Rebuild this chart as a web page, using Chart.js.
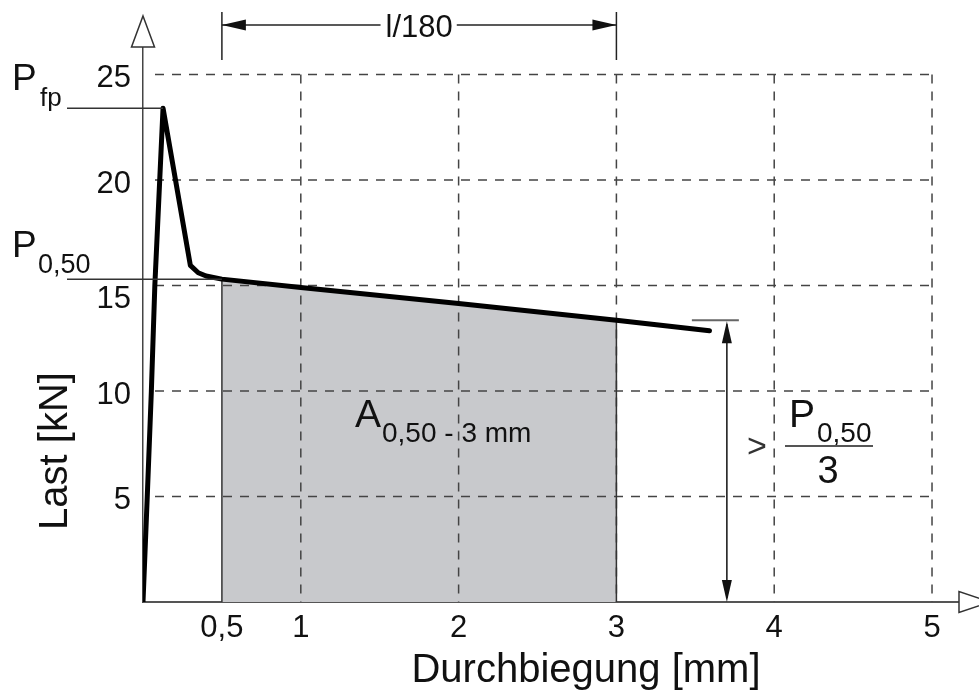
<!DOCTYPE html>
<html>
<head>
<meta charset="utf-8">
<script src="https://cdn.jsdelivr.net/npm/chart.js@4"></script>
<style>
  html, body { margin: 0; padding: 0; background: #fff; }
  canvas { display: block; }
</style>
</head>
<body>
<canvas id="lastChart" width="979" height="690"></canvas>
<script>
// Load-deflection curve (Durchbiegung in mm, Last in kN)
const deflection = [0, 0.027, 0.053, 0.075, 0.127, 0.30, 0.35, 0.40, 0.5, 1, 2, 3, 3.59];
const load       = [0, 5, 10, 15, 23.4, 15.95, 15.6, 15.45, 15.3, 14.9, 14.15, 13.35, 12.85];

// Axis ticks and dashed grid
const xTickValues = [0.5, 1, 2, 3, 4, 5];
const yTickValues = [5, 10, 15, 20, 25];
const gridX = [1, 2, 3, 4, 5];
const gridY = [5, 10, 15, 20, 25];

// Shaded energy area and the residual-load dimension
const areaFrom = 0.5;
const areaTo = 3;
const dimX = 3.70;

const FONT = '"Liberation Sans", Arial, Helvetica, sans-serif';
const INK = '#111';

// --- helpers ---
function loadAt(x) {
    const i = deflection.indexOf(x);
    return load[i];
}

const curvePoints = deflection.map((x, i) => ({ x: x, y: load[i] }));
const areaPoints = curvePoints.filter(p => p.x >= areaFrom && p.x <= areaTo);

function line(ctx, x1, y1, x2, y2) {
    ctx.beginPath();
    ctx.moveTo(x1, y1);
    ctx.lineTo(x2, y2);
    ctx.stroke();
}

// filled arrow head, tip at (x, y), pointing along (dx, dy)
function arrowHead(ctx, x, y, dx, dy, len, half) {
    const bx = x - dx * len, by = y - dy * len;
    ctx.beginPath();
    ctx.moveTo(x, y);
    ctx.lineTo(bx - dy * half, by + dx * half);
    ctx.lineTo(bx + dy * half, by - dx * half);
    ctx.closePath();
    ctx.fill();
}

// open triangle at the end of an axis
function openArrow(ctx, x, y, dx, dy, len, half) {
    const tx = x + dx * len, ty = y + dy * len;
    ctx.beginPath();
    ctx.moveTo(tx, ty);
    ctx.lineTo(x - dy * half, y + dx * half);
    ctx.lineTo(x + dy * half, y - dx * half);
    ctx.closePath();
    ctx.fillStyle = '#fff';
    ctx.fill();
    ctx.stroke();
}

function text(ctx, str, x, y, size, align, color) {
    ctx.font = size + 'px ' + FONT;
    ctx.textAlign = align || 'left';
    ctx.textBaseline = 'alphabetic';
    ctx.fillStyle = color || INK;
    ctx.fillText(str, x, y);
}

// --- grid drawn over the grey area but under the curve ---
const gridPlugin = {
    id: 'dashedGrid',
    afterDatasetDraw(chart, args) {
        if (args.index !== 1) return;
        const ctx = chart.ctx, xs = chart.scales.x, ys = chart.scales.y;
        ctx.save();
        ctx.strokeStyle = '#444';
        ctx.lineWidth = 1.5;
        ctx.setLineDash([9, 8]);
        gridX.forEach(v => {
            const px = xs.getPixelForValue(v);
            line(ctx, px, ys.getPixelForValue(25), px, ys.getPixelForValue(0));
        });
        gridY.forEach(v => {
            const py = ys.getPixelForValue(v);
            line(ctx, xs.getPixelForValue(0) + 12, py, xs.getPixelForValue(5), py);
        });
        ctx.setLineDash([]);

        // solid edges of the shaded area
        ctx.strokeStyle = '#333';
        [areaFrom, areaTo].forEach(v => {
            const px = xs.getPixelForValue(v);
            line(ctx, px, ys.getPixelForValue(loadAt(v)), px, ys.getPixelForValue(0));
        });
        ctx.restore();
    }
};

// --- annotations: reference loads, dimensions, labels, axis arrows ---
const annotationPlugin = {
    id: 'annotations',
    afterDraw(chart) {
        const ctx = chart.ctx, xs = chart.scales.x, ys = chart.scales.y;
        const area = chart.chartArea;
        const x0 = xs.getPixelForValue(0), y0 = ys.getPixelForValue(0);
        const pFp = Math.max(...load);
        const pPeakX = deflection[load.indexOf(pFp)];
        const p050 = loadAt(areaFrom);
        const pEnd = loadAt(areaTo);
        const yP050 = ys.getPixelForValue(p050);
        ctx.save();

        // y tick labels; the one hit by the P_0,50 line moves below it
        yTickValues.forEach(v => {
            let py = ys.getPixelForValue(v) + 2;
            if (Math.abs(py - yP050) < 14) py = yP050 + 18;
            text(ctx, String(v), x0 - 12, py + 11, 31, 'right');
        });

        // axis arrows
        ctx.strokeStyle = '#333';
        ctx.lineWidth = 1.5;
        openArrow(ctx, x0, area.top, 0, -1, 31, 11.5);
        openArrow(ctx, area.right, y0, 1, 0, 31, 10.5);

        // reference lines P_fp and P_0,50
        ctx.strokeStyle = '#333';
        ctx.lineWidth = 1.5;
        line(ctx, 67, ys.getPixelForValue(pFp), xs.getPixelForValue(pPeakX), ys.getPixelForValue(pFp));
        line(ctx, 67, yP050, xs.getPixelForValue(areaFrom), yP050);

        text(ctx, 'P', 12, 90, 37);
        text(ctx, 'fp', 40, 106, 26);
        text(ctx, 'P', 12, 257, 37);
        text(ctx, '0,50', 38, 273, 27);

        // l/180 dimension above the plot
        const xa = xs.getPixelForValue(areaFrom), xb = xs.getPixelForValue(areaTo);
        const yDim = 25;
        ctx.strokeStyle = '#222';
        ctx.fillStyle = '#111';
        ctx.lineWidth = 1.5;
        line(ctx, xa, 12, xa, 60);
        line(ctx, xb, 12, xb, 60);
        ctx.font = '31px ' + FONT;
        const label = 'l/180';
        const w = ctx.measureText(label).width;
        const mid = (xa + xb) / 2;
        line(ctx, xa, yDim, mid - w / 2 - 5, yDim);
        line(ctx, mid + w / 2 + 4, yDim, xb, yDim);
        arrowHead(ctx, xa, yDim, -1, 0, 24, 5.5);
        arrowHead(ctx, xb, yDim, 1, 0, 24, 5.5);
        text(ctx, label, mid, 37, 31, 'center');

        // residual load dimension at the right
        const xd = xs.getPixelForValue(dimX);
        const yTop = ys.getPixelForValue(pEnd);
        ctx.strokeStyle = '#666';
        ctx.lineWidth = 2;
        line(ctx, xd - 35, yTop, xd + 12, yTop);
        ctx.strokeStyle = '#111';
        ctx.lineWidth = 1.5;
        line(ctx, xd, yTop + 4, xd, y0 - 4);
        ctx.fillStyle = '#111';
        arrowHead(ctx, xd, yTop + 1, 0, -1, 22, 5);
        arrowHead(ctx, xd, y0, 0, 1, 22, 5);

        // > P_0,50 / 3
        ctx.font = '34px ' + FONT;
        ctx.fillStyle = '#333';
        ctx.textAlign = 'left';
        ctx.textBaseline = 'middle';
        ctx.fillText('>', 747, 448);
        text(ctx, 'P', 789, 427, 39);
        text(ctx, '0,50', 817, 442, 28);
        ctx.strokeStyle = '#555';
        ctx.lineWidth = 2;
        line(ctx, 785, 446, 873, 446);
        text(ctx, '3', 828, 483, 38, 'center');

        // area label
        text(ctx, 'A', 355, 427, 39);
        text(ctx, '0,50 - 3 mm', 382, 442, 28);

        // axis titles
        text(ctx, 'Durchbiegung [mm]', 586, 682, 40, 'center');
        ctx.translate(67, 451);
        ctx.rotate(-Math.PI / 2);
        text(ctx, 'Last [kN]', 0, 0, 40, 'center');

        ctx.restore();
    }
};

const ctx = document.getElementById('lastChart').getContext('2d');
const X_MAX = 5.171;
const Y_MAX = 26.3;

new Chart(ctx, {
    type: 'line',
    data: {
        datasets: [
            {
                label: 'Last-Durchbiegung',
                data: curvePoints,
                borderColor: '#000',
                borderWidth: 5,
                borderJoinStyle: 'round',
                borderCapStyle: 'round',
                pointRadius: 0,
                tension: 0,
                fill: false
            },
            {
                label: 'A 0,50 - 3 mm',
                data: areaPoints,
                borderColor: 'rgba(0,0,0,0)',
                borderWidth: 0,
                backgroundColor: '#c8c9cc',
                pointRadius: 0,
                tension: 0,
                fill: 'origin'
            }
        ]
    },
    options: {
        responsive: false,
        animation: false,
        events: [],
        layout: { padding: { top: 47, right: 20, left: 0, bottom: 0 } },
        plugins: {
            legend: { display: false },
            tooltip: { enabled: false }
        },
        scales: {
            x: {
                type: 'linear',
                min: 0,
                max: X_MAX,
                z: 1,
                afterBuildTicks: s => { s.ticks = xTickValues.map(v => ({ value: v })); },
                afterFit: s => { s.height = 88; },
                grid: { display: false, drawTicks: false },
                border: { display: true, color: '#555', width: 2 },
                ticks: {
                    autoSkip: false,
                    maxRotation: 0,
                    padding: 8,
                    color: INK,
                    font: { family: FONT, size: 31 },
                    callback: v => String(v).replace('.', ',')
                }
            },
            y: {
                min: 0,
                max: Y_MAX,
                afterBuildTicks: s => { s.ticks = yTickValues.map(v => ({ value: v })); },
                afterFit: s => { s.width = 143; },
                grid: { display: false, drawTicks: false },
                border: { display: true, color: '#444', width: 1.5 },
                ticks: { display: false }
            }
        }
    },
    plugins: [gridPlugin, annotationPlugin]
});
</script>
</body>
</html>
